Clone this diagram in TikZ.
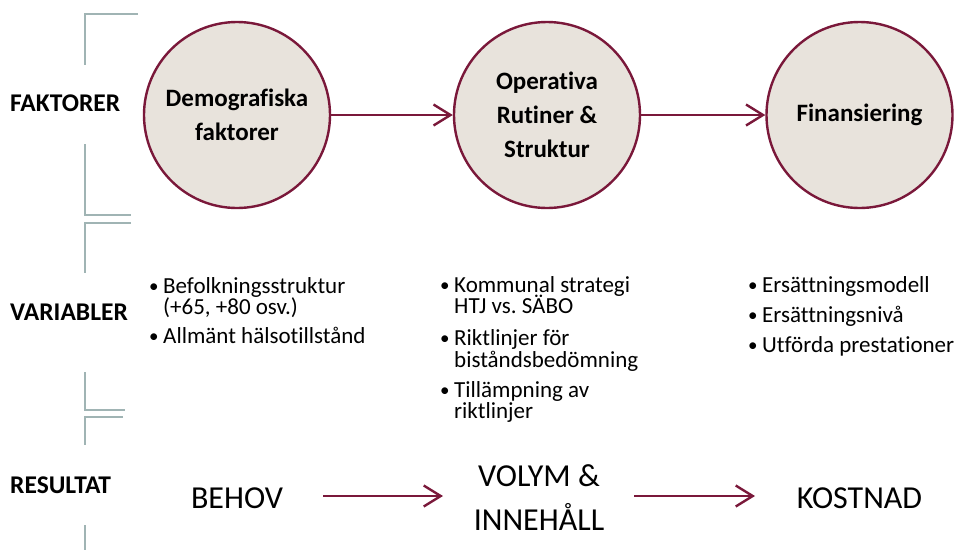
\documentclass[tikz,border=0pt]{standalone}
\usepackage{fontspec}
\setmainfont{Carlito}[Ligatures=CommonOff]
\frenchspacing
\usetikzlibrary{arrows.meta}
\definecolor{maroon}{RGB}{122,24,58}
\definecolor{cfill}{RGB}{232,227,220}
\definecolor{brk}{RGB}{160,180,180}
\tikzset{
  circ/.style={circle, draw=maroon, fill=cfill, line width=2.4pt, minimum size=186pt, inner sep=0pt, align=center, font=\fontsize{25}{34}\selectfont\bfseries},
  conn/.style={draw=maroon, line width=2.4pt, -{Straight Barb[length=17pt,width=21pt,line width=2.4pt]}},
  brack/.style={draw=brk, line width=2pt},
  rowlab/.style={anchor=base west, inner sep=0pt, font=\fontsize{25.5}{30}\selectfont\bfseries},
  itm/.style={anchor=base west, inner sep=0pt, font=\fontsize{23}{26}\selectfont},
  bul/.style={anchor=base west, inner sep=0pt, font=\fontsize{19}{26}\selectfont},
  res/.style={inner sep=0pt, font=\fontsize{32}{44}\selectfont, align=center}
}
\begin{document}
\begin{tikzpicture}[x=1pt,y=-1pt]
\useasboundingbox (0,0) rectangle (956,550);
% brackets
\draw[brack] (138,14) -- (85,14) -- (85,65);
\draw[brack] (85,144) -- (85,215) -- (131,215);
\draw[brack] (131,223) -- (85,223) -- (85,273);
\draw[brack] (85,372) -- (85,410) -- (125,410);
\draw[brack] (123,417) -- (85,417) -- (85,445);
\draw[brack] (85,525) -- (85,550);
% row labels
\node[rowlab] (lf) at (10,111) {FAKTORER};
\node[rowlab] (lv) at (10,320) {VARIABLER};
\node[rowlab] (lr) at (10,493) {RESULTAT};
% circles
\node[circ] (c1) at (237,115) {Demografiska\\faktorer};
\node[circ] (c2) at (547,115) {Operativa\\Rutiner \&\\Struktur};
\node[circ] (c3) at (859.5,115) {Finansiering};
\draw[conn] (c1) -- (c2);
\draw[conn] (c2) -- (c3);
% bullets column 1
\node[bul] (b1a) at (149,292) {•};
\node[itm] (t1a) at (163,293) {Befolkningsstruktur};
\node[itm] (t1b) at (163,314) {(+65, +80 osv.)};
\node[bul] (b1c) at (149,342) {•};
\node[itm] (t1c) at (163,343) {Allmänt hälsotillstånd};
% column 2
\node[bul] (b2a) at (440,291) {•};
\node[itm] (t2a) at (454,292) {Kommunal strategi};
\node[itm] (t2b) at (454,313) {HTJ vs. SÄBO};
\node[bul] (b2c) at (440,344) {•};
\node[itm] (t2c) at (454,345) {Riktlinjer för};
\node[itm] (t2d) at (454,367) {biståndsbedömning};
\node[bul] (b2e) at (440,396) {•};
\node[itm] (t2e) at (454,397) {Tillämpning av};
\node[itm] (t2f) at (454,418) {riktlinjer};
% column 3
\node[bul] (b3a) at (748,291) {•};
\node[itm] (t3a) at (762,292) {Ersättningsmodell};
\node[bul] (b3b) at (748,321) {•};
\node[itm] (t3b) at (762,322) {Ersättningsnivå};
\node[bul] (b3c) at (748,351) {•};
\node[itm] (t3c) at (762,352) {Utförda prestationer};
% results
\node[res] (r1) at (237,498) {BEHOV};
\node[res] (r2) at (539,498) {VOLYM \&\\INNEHÅLL};
\node[res] (r3) at (859.5,498) {KOSTNAD};
\coordinate (a1s) at (323,496);
\coordinate (a1e) at (443,496);
\coordinate (a2s) at (634,496);
\coordinate (a2e) at (755,496);
\draw[conn] (a1s) -- (a1e);
\draw[conn] (a2s) -- (a2e);
\end{tikzpicture}
\end{document}
